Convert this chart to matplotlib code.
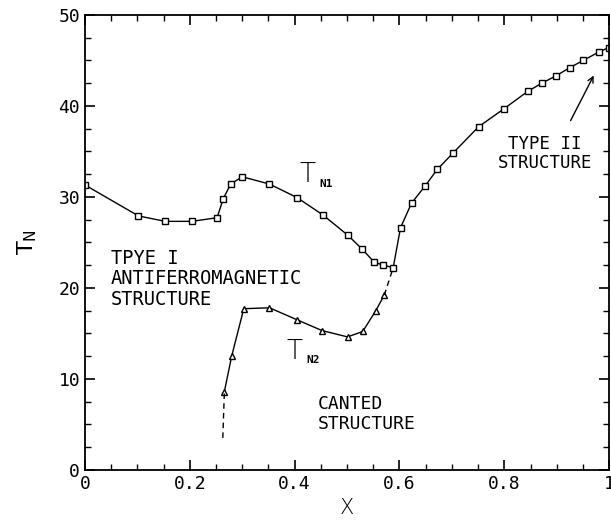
import numpy as np
import matplotlib
matplotlib.use("Agg")
from matplotlib import pyplot as plt
from matplotlib.ticker import MultipleLocator

# T_N1 (squares)
x_n1 = [0.0, 0.102, 0.153, 0.204, 0.252, 0.264, 0.278, 0.300, 0.352, 0.405,
        0.454, 0.501, 0.528, 0.552, 0.569, 0.588, 0.602, 0.623, 0.649, 0.672,
        0.702, 0.751, 0.800, 0.845, 0.872, 0.899, 0.925, 0.951, 0.980, 0.999]
t_n1 = [31.3, 27.9, 27.3, 27.3, 27.7, 29.8, 31.4, 32.2, 31.4, 29.9,
        28.0, 25.8, 24.3, 22.8, 22.5, 22.2, 26.6, 29.3, 31.2, 33.0,
        34.8, 37.7, 39.7, 41.6, 42.5, 43.3, 44.2, 45.0, 45.9, 46.4]

# T_N2 (triangles)
x_n2 = [0.266, 0.280, 0.303, 0.352, 0.404, 0.452, 0.501, 0.530, 0.555, 0.571]
t_n2 = [8.6, 12.5, 17.7, 17.8, 16.5, 15.3, 14.6, 15.2, 17.5, 19.2]

# dashed extrapolations of T_N2
x_dash_lo = [0.263, 0.266]
t_dash_lo = [3.5, 8.6]
x_dash_hi = [0.571, 0.588]
t_dash_hi = [19.2, 22.2]

plt.rcParams['font.family'] = ['DejaVu Sans Mono']
plt.rcParams['mathtext.fontset'] = 'custom'
plt.rcParams['mathtext.rm'] = 'DejaVu Sans'

fig = plt.figure(figsize=(6.11, 5.29), dpi=100)
ax = fig.add_axes([0.139, 0.112, 0.858, 0.860])

ax.plot(x_n1, t_n1, color='black', lw=1.0, marker='s', ms=4.5,
        mfc='white', mec='black', mew=1.0)
ax.plot(x_n2, t_n2, color='black', lw=1.0, marker='^', ms=4.5,
        mfc='white', mec='black', mew=1.0)
ax.plot(x_dash_lo, t_dash_lo, color='black', lw=1.0, ls=(0, (4, 3)))
ax.plot(x_dash_hi, t_dash_hi, color='black', lw=1.0, ls=(0, (4, 3)))

ax.set_xlim(0, 1)
ax.set_ylim(0, 50)
ax.xaxis.set_minor_locator(MultipleLocator(0.05))
ax.yaxis.set_major_locator(MultipleLocator(10))
ax.yaxis.set_minor_locator(MultipleLocator(2.5))
ax.set_xticks([0, 0.2, 0.4, 0.6, 0.8, 1.0])
ax.set_xticklabels(['0', '0.2', '0.4', '0.6', '0.8', '1'])
ax.tick_params(which='both', direction='in', top=True, right=True, labelsize=13)
ax.tick_params(which='major', length=7, width=1.2)
ax.tick_params(which='minor', length=4, width=1.0)
for s in ax.spines.values():
    s.set_linewidth(1.3)

ax.set_xlabel('X', fontsize=15, family='DejaVu Sans', fontweight='light')
ax.set_ylabel(r'$\mathrm{T_N}$', fontsize=16, labelpad=14)

# curve labels
ax.text(0.41, 31.6, 'T', fontsize=19, family='DejaVu Sans', fontweight='light')
ax.text(0.447, 31.1, 'N1', fontsize=8, fontweight='bold')
ax.text(0.385, 12.2, 'T', fontsize=19, family='DejaVu Sans', fontweight='light')
ax.text(0.422, 11.7, 'N2', fontsize=8, fontweight='bold')

ax.text(0.05, 24.3, 'TPYE I\nANTIFERROMAGNETIC\nSTRUCTURE', fontsize=13.5,
        va='top', ha='left', linespacing=1.1)
ax.text(0.444, 8.2, 'CANTED\nSTRUCTURE', fontsize=13,
        va='top', ha='left', linespacing=1.1)
ax.text(0.878, 36.8, 'TYPE II\nSTRUCTURE', fontsize=12.5,
        va='top', ha='center', linespacing=1.1)
ax.annotate('', xy=(0.973, 43.6), xytext=(0.924, 38.1),
            arrowprops=dict(arrowstyle='->', color='black', lw=1.0))

fig.savefig('out.png', dpi=100)
